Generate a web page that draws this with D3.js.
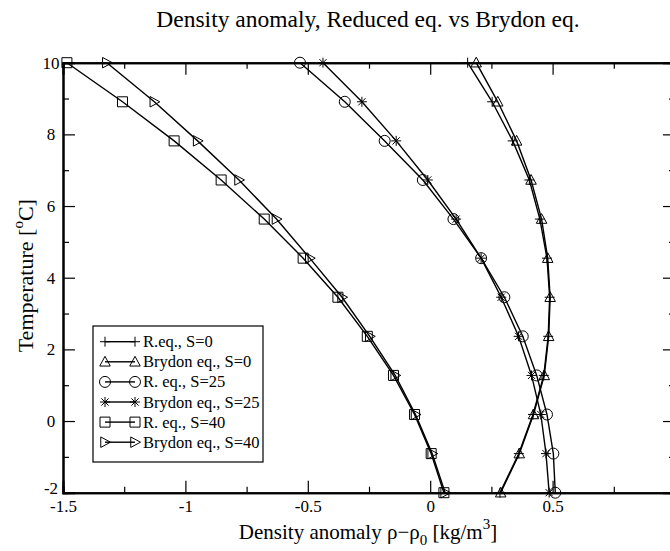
<!DOCTYPE html>
<html><head><meta charset="utf-8">
<script src="https://cdn.jsdelivr.net/npm/d3@7"></script>
<style>html,body{margin:0;padding:0;background:#fff;}svg{display:block;}svg text{font-family:"Liberation Serif","Times New Roman",Times,"DejaVu Serif",serif;}</style>
</head><body>
<svg id="chart" width="670" height="551"></svg>
<script>
// ---- data ----
const temperature = [-2, -0.909, 0.182, 1.273, 2.364, 3.455, 4.545, 5.636, 6.727, 7.818, 8.909, 10];
const reqS0     = [0.285, 0.362, 0.420, 0.464, 0.482, 0.488, 0.477, 0.448, 0.405, 0.337, 0.253, 0.153];
const brydonS0  = [0.288, 0.364, 0.422, 0.466, 0.484, 0.490, 0.480, 0.455, 0.412, 0.353, 0.276, 0.188];
const reqS25    = [0.511, 0.503, 0.477, 0.435, 0.378, 0.303, 0.208, 0.095, -0.030, -0.186, -0.349, -0.532];
const brydonS25 = [0.486, 0.473, 0.452, 0.414, 0.361, 0.290, 0.208, 0.106, -0.010, -0.139, -0.279, -0.438];
const reqS40    = [0.056, 0.004, -0.064, -0.150, -0.257, -0.377, -0.519, -0.678, -0.854, -1.046, -1.257, -1.484];
const brydonS40 = [0.061, 0.008, -0.060, -0.143, -0.247, -0.360, -0.492, -0.628, -0.781, -0.950, -1.127, -1.321];
const seriesNames = ["R.eq., S=0", "Brydon eq., S=0", "R. eq., S=25", "Brydon eq., S=25", "R. eq., S=40", "Brydon eq., S=40"];
const seriesSymbols = ["plus", "triangleUp", "circle", "star", "square", "triangleRight"];
const seriesValues = [reqS0, brydonS0, reqS25, brydonS25, reqS40, brydonS40];
const xMajorTicks = [-1.5, -1, -0.5, 0, 0.5, 1];
const xTickLabels = ["-1.5", "-1", "-0.5", "0", "0.5", ""];
const xMinorTicks = [-1.25, -0.75, -0.25, 0.25, 0.75];
const yMajorTicks = [-2, 0, 2, 4, 6, 8, 10];
const yTickLabels = ["-2", "0", "2", "4", "6", "8", "10"];
const yMinorTicks = [-1, 1, 3, 5, 7, 9];

// ---- layout ----
const svg = d3.select("#chart");
const FONT = "Liberation Serif, Times New Roman, Times, DejaVu Serif, serif";
const x = d3.scaleLinear().domain([-1.5, 1.0]).range([63, 675]);
const y = d3.scaleLinear().domain([-2, 10]).range([492.7, 62.7]);
const [x0, x1] = x.range();
const [yb, yt] = y.range();

function symbolPath(type, s) {
  const h = s / 2;
  switch (type) {
    case "plus": return `M${-h},0H${h}M0,${-h}V${h}`;
    case "triangleUp": return `M0,${-h*1.1}L${h*1.05},${h*0.85}L${-h*1.05},${h*0.85}Z`;
    case "triangleRight": return `M${h*1.1},0L${-h*0.85},${h*1.05}L${-h*0.85},${-h*1.05}Z`;
    case "square": return `M${-h},${-h}H${h}V${h}H${-h}Z`;
    case "circle": return `M${h*1.1},0A${h*1.1},${h*1.1},0,1,1,${-h*1.1},0A${h*1.1},${h*1.1},0,1,1,${h*1.1},0Z`;
    case "star": { const d = h*0.72; return `M${-h},0H${h}M0,${-h}V${h}M${-d},${-d}L${d},${d}M${-d},${d}L${d},${-d}`; }
  }
}

// ---- series ----
const line = d3.line().x(d => x(d[0])).y(d => y(d[1]));
const plot = svg.append("g");
seriesValues.forEach((vals, i) => {
  const pts = vals.map((v, k) => [v, temperature[k]]);
  plot.append("path").attr("d", line(pts)).attr("fill", "none").attr("stroke", "#000").attr("stroke-width", 1.4);
  plot.selectAll(null).data(pts).enter().append("path")
    .attr("transform", d => `translate(${x(d[0])},${y(d[1])})`)
    .attr("d", symbolPath(seriesSymbols[i], 10))
    .attr("fill", "none").attr("stroke", "#000").attr("stroke-width", 1);
});

// ---- axes ----
const xfmt = d => xTickLabels[xMajorTicks.indexOf(d)];
const yfmt = d => yTickLabels[yMajorTicks.indexOf(d)];
const gB = svg.append("g").attr("transform", `translate(0,${yb})`)
  .call(d3.axisBottom(x).tickValues(xMajorTicks).tickSize(-12).tickPadding(13).tickFormat(xfmt));
const gBm = svg.append("g").attr("transform", `translate(0,${yb})`)
  .call(d3.axisBottom(x).tickValues(xMinorTicks).tickSize(-6).tickFormat(""));
const gT = svg.append("g").attr("transform", `translate(0,${yt})`)
  .call(d3.axisTop(x).tickValues(xMajorTicks).tickSize(-12).tickFormat(""));
const gTm = svg.append("g").attr("transform", `translate(0,${yt})`)
  .call(d3.axisTop(x).tickValues(xMinorTicks).tickSize(-6).tickFormat(""));
const gL = svg.append("g").attr("transform", `translate(${x0},0)`)
  .call(d3.axisLeft(y).tickValues(yMajorTicks).tickSize(-12).tickPadding(12).tickFormat(yfmt));
const gLm = svg.append("g").attr("transform", `translate(${x0},0)`)
  .call(d3.axisLeft(y).tickValues(yMinorTicks).tickSize(-6).tickFormat(""));
const gR = svg.append("g").attr("transform", `translate(${x1},0)`)
  .call(d3.axisRight(y).tickValues(yMajorTicks).tickSize(-12).tickFormat(""));
const gRm = svg.append("g").attr("transform", `translate(${x1},0)`)
  .call(d3.axisRight(y).tickValues(yMinorTicks).tickSize(-6).tickFormat(""));
[gB, gBm, gT, gTm, gL, gLm, gR, gRm].forEach(g => {
  g.attr("font-family", FONT);
  g.select(".domain").attr("stroke", "#000").attr("stroke-width", 2);
  g.selectAll(".tick line").attr("stroke", "#000").attr("stroke-width", 1.2);
  g.selectAll("text").style("font-family", FONT).attr("font-size", 17).attr("fill", "#000");
});
gB.selectAll(".tick text").attr("dy", "0.4em");
gL.selectAll(".tick text").attr("text-anchor", "middle")
  .attr("dy", d => d === yMajorTicks[0] ? "0.02em" : "0.32em");

// ---- legend ----
const lg = svg.append("g");
lg.append("rect").attr("x", 93).attr("y", 326).attr("width", 170).attr("height", 136)
  .attr("fill", "#fff").attr("stroke", "#000").attr("stroke-width", 1.2);
seriesNames.forEach((name, i) => {
  const cy = 341.7 + i * 20.1;
  lg.append("line").attr("x1", 105).attr("x2", 135).attr("y1", cy).attr("y2", cy).attr("stroke", "#000").attr("stroke-width", 1.4);
  [105, 135].forEach(cx => lg.append("path").attr("transform", `translate(${cx},${cy})`)
    .attr("d", symbolPath(seriesSymbols[i], 10)).attr("fill", "none").attr("stroke", "#000").attr("stroke-width", 1));
  lg.append("text").attr("x", 143).attr("y", cy + 5.5).style("font-family", FONT).attr("font-size", 16.5).text(name);
});

// ---- titles ----
const cx = (x0 + x1) / 2;
svg.append("text").attr("x", cx - 1).attr("y", 27).attr("text-anchor", "middle")
  .style("font-family", FONT).attr("font-size", 23.5).text("Density anomaly, Reduced eq. vs Brydon eq.");
const xl = svg.append("text").attr("x", cx - 1).attr("y", 539).attr("text-anchor", "middle")
  .style("font-family", FONT).attr("font-size", 21);
xl.append("tspan").text("Density anomaly ρ−ρ");
xl.append("tspan").attr("font-size", 15).attr("dy", 6).text("0");
xl.append("tspan").attr("dy", -6).text(" [kg/m");
xl.append("tspan").attr("font-size", 15).attr("dy", -10).text("3");
xl.append("tspan").attr("dy", 10).text("]");
const yl = svg.append("text").attr("transform", `translate(33,${(yb + yt) / 2 - 2}) rotate(-90)`)
  .attr("text-anchor", "middle").style("font-family", FONT).attr("font-size", 22);
yl.append("tspan").text("Temperature [");
yl.append("tspan").attr("font-size", 15).attr("dy", -10).text("o");
yl.append("tspan").attr("dy", 10).text("C]");
</script>
</body></html>
